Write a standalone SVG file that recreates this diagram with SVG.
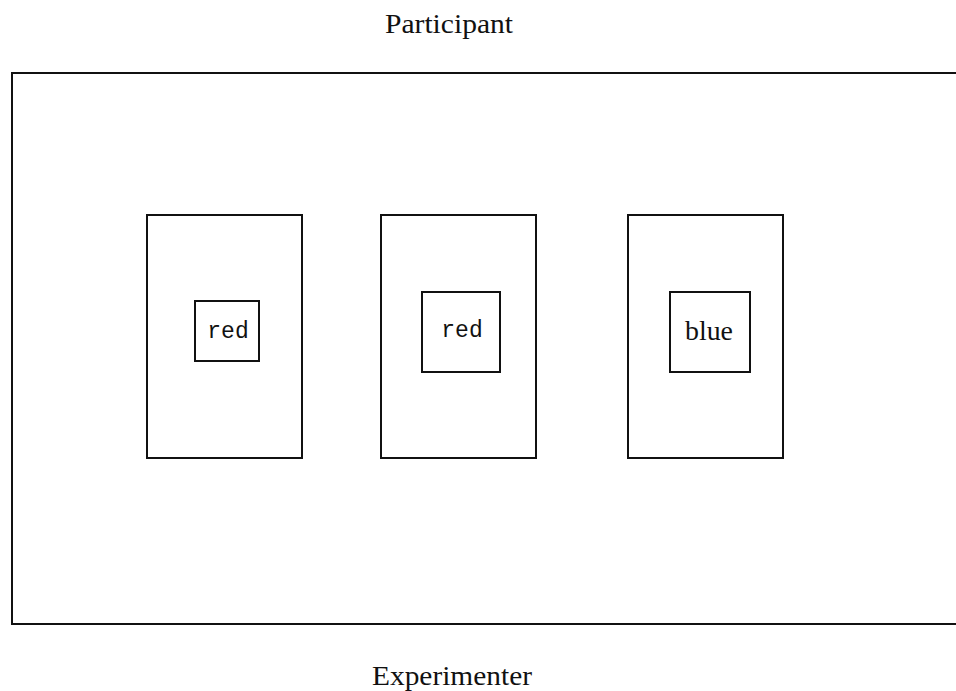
<svg xmlns="http://www.w3.org/2000/svg" width="956" height="691" viewBox="0 0 956 691">
<style>
.card{fill:#fff;stroke:#111;stroke-width:2}
.inner{fill:#fff;stroke:#111;stroke-width:2}
.lbl{font-family:"Liberation Serif","Times New Roman",serif;font-size:28px;fill:#111;text-anchor:middle}
.mono{font-family:"Liberation Mono","Courier New",monospace;font-size:23px;fill:#111;text-anchor:middle}
</style>
<rect width="956" height="691" fill="#fff"/>
<text class="lbl" x="449" y="33" textLength="128" lengthAdjust="spacingAndGlyphs">Participant</text>
<g id="table">
<path d="M956,73 H12 V624 H956" fill="none" stroke="#111" stroke-width="2"/>
</g>
<g id="card1">
<rect class="card" x="147" y="215" width="155" height="243"/>
<rect class="inner" x="195" y="301" width="64" height="60"/>
<text class="mono" x="228" y="338">red</text>
</g>
<g id="card2">
<rect class="card" x="381" y="215" width="155" height="243"/>
<rect class="inner" x="422" y="292" width="78" height="80"/>
<text class="mono" x="462" y="337">red</text>
</g>
<g id="card3">
<rect class="card" x="628" y="215" width="155" height="243"/>
<rect class="inner" x="670" y="292" width="80" height="80"/>
<text class="lbl" x="709" y="340" textLength="48" lengthAdjust="spacingAndGlyphs">blue</text>
</g>
<text class="lbl" x="452" y="685" textLength="160" lengthAdjust="spacingAndGlyphs">Experimenter</text>
</svg>
